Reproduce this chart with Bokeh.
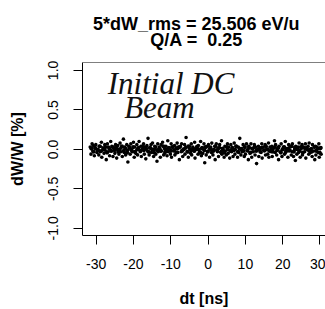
from bokeh.plotting import figure
from bokeh.models import Range1d, FixedTicker, Label, Span, PrintfTickFormatter, Div
from bokeh.layouts import column
from bokeh.embed import file_html
from bokeh.resources import INLINE

title_line1 = "5*dW_rms = 25.506 eV/u"
title_line2 = "Q/A =  0.25"
x_label = "dt [ns]"
y_label = "dW/W [%]"
note_line1 = "Initial DC"
note_line2 = "Beam"
x_ticks = [-30, -20, -10, 0, 10, 20, 30]
x_tick_labels = ["-30", "-20", "-10", "0", "10", "20", "30"]
y_ticks = [-1.0, -0.5, 0.0, 0.5, 1.0]
y_tick_labels = ["-1.0", "-0.5", "0.0", "0.5", "1.0"]

dt = [
    -31.6, -31.4, -31.1, -30.9, -30.8, -30.5, -30.2, -30.1, -29.8, -29.5,
    -29.3, -29.2, -28.9, -28.6, -28.5, -28.2, -27.9, -27.7, -27.6, -27.3,
    -27.0, -26.8, -26.7, -26.4, -26.1, -25.9, -25.8, -25.5, -25.2, -25.0,
    -24.8, -24.5, -24.3, -24.2, -23.9, -23.6, -23.4, -23.3, -23.0, -22.7,
    -22.5, -22.4, -22.1, -21.8, -21.6, -21.5, -21.2, -20.9, -20.7, -20.6,
    -20.3, -20.0, -19.8, -19.7, -19.4, -19.1, -18.9, -18.8, -18.5, -18.2,
    -18.0, -17.9, -17.6, -17.3, -17.1, -17.0, -16.7, -16.4, -16.2, -16.1,
    -15.8, -15.5, -15.3, -15.2, -14.9, -14.6, -14.4, -14.3, -14.0, -13.7,
    -13.5, -13.4, -13.1, -12.8, -12.6, -12.5, -12.2, -11.9, -11.7, -11.6,
    -11.3, -11.0, -10.8, -10.7, -10.4, -10.1, -9.9, -9.8, -9.5, -9.2,
    -9.0, -8.9, -8.6, -8.3, -8.1, -8.0, -7.7, -7.4, -7.2, -7.1,
    -6.8, -6.5, -6.3, -6.2, -5.9, -5.6, -5.4, -5.3, -5.0, -4.7,
    -4.5, -4.4, -4.1, -3.8, -3.6, -3.5, -3.2, -2.9, -2.7, -2.6,
    -2.3, -2.0, -1.8, -1.7, -1.4, -1.1, -0.9, -0.8, -0.5, -0.2,
    0.0, 0.1, 0.4, 0.7, 0.9, 1.0, 1.3, 1.6, 1.8, 1.9,
    2.2, 2.5, 2.7, 2.8, 3.1, 3.4, 3.6, 3.7, 4.0, 4.3,
    4.5, 4.6, 4.9, 5.2, 5.4, 5.5, 5.8, 6.1, 6.3, 6.4,
    6.7, 7.0, 7.2, 7.3, 7.6, 7.9, 8.1, 8.2, 8.5, 8.8,
    9.0, 9.1, 9.4, 9.7, 9.9, 10.0, 10.3, 10.6, 10.8, 10.9,
    11.2, 11.5, 11.7, 11.8, 12.1, 12.4, 12.6, 12.7, 13.0, 13.3,
    13.5, 13.6, 13.9, 14.2, 14.4, 14.5, 14.8, 15.1, 15.3, 15.4,
    15.7, 16.0, 16.2, 16.3, 16.6, 16.9, 17.1, 17.2, 17.5, 17.8,
    18.0, 18.1, 18.4, 18.7, 18.9, 19.0, 19.3, 19.6, 19.8, 19.9,
    20.2, 20.5, 20.7, 20.8, 21.1, 21.4, 21.6, 21.7, 22.0, 22.3,
    22.5, 22.6, 22.9, 23.2, 23.4, 23.5, 23.8, 24.1, 24.3, 24.4,
    24.7, 25.0, 25.2, 25.3, 25.6, 25.9, 26.1, 26.2, 26.5, 26.8,
    27.0, 27.1, 27.4, 27.7, 27.9, 28.0, 28.3, 28.6, 28.8, 28.9,
    29.2, 29.5, 29.7, 29.8, 30.1, 30.3,
]

dW = [
    0.03, -0.06, 0.07, -0.02, 0.05, -0.08, 0.01, 0.06, -0.04, 0.00,
    -0.07, 0.04, -0.03, 0.09, -0.10, 0.02, -0.05, 0.06, -0.01, -0.13,
    0.07, -0.03, 0.03, -0.08, 0.10, -0.02, 0.04, -0.09, 0.02, -0.05,
    0.06, -0.11, 0.00, 0.05, -0.06, 0.08, -0.03, 0.02, -0.09, 0.13,
    -0.04, 0.03, -0.07, 0.06, -0.01, -0.16, 0.04, -0.06, 0.07, 0.00,
    -0.03, 0.09, -0.10, 0.03, -0.05, 0.06, -0.07, 0.01, 0.10, -0.03,
    0.04, -0.09, 0.00, 0.07, -0.06, 0.03, -0.12, 0.05, -0.02, 0.14,
    -0.07, 0.02, 0.06, -0.04, 0.08, -0.09, 0.00, 0.04, -0.06, -0.15,
    0.07, -0.03, 0.03, -0.10, 0.06, -0.02, 0.09, -0.07, 0.01, -0.05,
    0.04, -0.08, 0.11, -0.03, 0.00, -0.06, 0.07, -0.10, 0.03, -0.02,
    0.05, -0.07, 0.02, 0.08, -0.04, 0.03, -0.13, 0.04, -0.03, 0.07,
    -0.09, 0.00, 0.06, -0.06, 0.15, -0.03, 0.04, -0.10, 0.01, -0.05,
    0.07, -0.07, 0.03, -0.02, 0.09, -0.11, 0.00, 0.04, -0.06, 0.05,
    -0.03, 0.10, -0.08, 0.01, -0.05, 0.07, -0.17, 0.03, -0.07, 0.04,
    -0.02, 0.06, -0.10, 0.03, -0.04, 0.08, -0.07, 0.00, 0.04, -0.13,
    0.07, -0.03, 0.01, -0.09, 0.06, -0.04, 0.11, -0.06, 0.00, -0.10,
    0.04, -0.02, -0.07, 0.07, -0.05, 0.03, -0.11, 0.06, -0.03, 0.01,
    -0.09, 0.08, -0.06, 0.00, 0.04, -0.10, 0.03, -0.04, 0.14, -0.07,
    0.01, -0.03, 0.06, -0.09, 0.03, -0.06, 0.07, -0.02, -0.13, 0.04,
    -0.05, 0.07, -0.10, 0.01, -0.03, 0.06, -0.07, 0.03, -0.18, 0.00,
    0.04, -0.09, 0.01, -0.04, 0.07, -0.11, 0.03, -0.02, 0.06, -0.07,
    0.00, -0.06, 0.08, -0.10, 0.03, -0.03, 0.04, -0.09, 0.01, 0.11,
    -0.04, 0.06, -0.07, 0.01, -0.13, 0.04, -0.03, 0.07, -0.09, 0.00,
    0.03, -0.06, 0.10, -0.04, 0.01, -0.10, 0.06, -0.02, 0.04, -0.07,
    -0.03, 0.07, -0.09, 0.00, -0.14, 0.04, -0.06, 0.03, -0.04, 0.08,
    -0.10, 0.01, 0.06, -0.07, 0.03, -0.03, 0.07, -0.11, 0.00, 0.04,
    -0.06, 0.08, -0.04, 0.01, -0.09, 0.06, -0.02, -0.13, 0.04, -0.07,
    0.03, -0.04, 0.07, -0.10, 0.01, -0.06,
]

# dense core of the beam
dt_core = [
    -31.3, -30.7, -30.3, -29.6, -29.0, -28.7, -28.1, -27.5, -27.1, -26.5,
    -26.0, -25.6, -25.1, -24.6, -24.1, -23.7, -23.1, -22.6, -22.2, -21.7,
    -21.1, -20.5, -20.1, -19.6, -19.0, -18.6, -18.1, -17.5, -17.2, -16.6,
    -16.0, -15.6, -15.0, -14.5, -14.1, -13.6, -13.0, -12.7, -12.0, -11.5,
    -11.1, -10.5, -10.0, -9.6, -9.1, -8.5, -8.2, -7.6, -7.0, -6.6,
    -6.0, -5.5, -5.1, -4.6, -4.0, -3.7, -3.0, -2.5, -2.1, -1.6,
    -1.0, -0.6, -0.1, 0.5, 0.8, 1.4, 2.0, 2.4, 3.0, 3.5,
    3.9, 4.4, 5.0, 5.3, 6.0, 6.5, 6.9, 7.5, 8.0, 8.4,
    8.9, 9.5, 9.8, 10.5, 11.0, 11.4, 11.9, 12.5, 12.9, 13.4,
    14.0, 14.3, 15.0, 15.5, 15.9, 16.5, 17.0, 17.4, 17.9, 18.5,
    18.8, 19.5, 20.0, 20.4, 20.9, 21.5, 21.9, 22.4, 23.0, 23.3,
    24.0, 24.5, 24.9, 25.4, 26.0, 26.4, 27.0, 27.5, 27.8, 28.5,
    29.0, 29.4, 29.9, 30.2,
]
dW_core = [
    0.01, -0.03, 0.02, -0.01, 0.04, -0.02, 0.00, 0.03, -0.04, 0.01,
    -0.02, 0.03, -0.01, 0.02, -0.03, 0.00, 0.04, -0.02, 0.01, -0.04,
    0.02, -0.01, 0.03, -0.03, 0.00, 0.02, -0.02, 0.04, -0.01, 0.01,
    -0.03, 0.02, 0.00, -0.04, 0.03, -0.01, 0.01, -0.02, 0.04, -0.03,
    0.00, 0.02, -0.02, 0.03, -0.01, -0.04, 0.01, 0.03, -0.02, 0.00,
    0.02, -0.03, 0.04, -0.01, 0.01, -0.02, 0.03, 0.00, -0.04, 0.02,
    -0.01, 0.03, -0.03, 0.01, 0.00, -0.02, 0.04, -0.01, 0.02, -0.03,
    0.01, -0.04, 0.03, 0.00, -0.02, 0.02, -0.01, 0.04, -0.03, 0.01,
    0.00, -0.02, 0.03, -0.01, 0.02, -0.04, 0.01, 0.03, -0.02, 0.00,
    -0.03, 0.02, -0.01, 0.04, 0.00, -0.02, 0.01, -0.03, 0.03, -0.01,
    0.02, -0.04, 0.00, 0.03, -0.02, 0.01, -0.01, 0.04, -0.03, 0.02,
    0.00, -0.02, 0.03, -0.04, 0.01, 0.02, -0.01, 0.00, -0.03, 0.03,
    -0.02, 0.01, -0.04, 0.02,
]

FONT = "Liberation Sans"
TITLE_H = 50

p = figure(width=325, height=309 - TITLE_H, output_backend="svg", toolbar_location=None,
           x_range=Range1d(-33.67, 31.48), y_range=Range1d(-1.09, 1.10),
           min_border_left=82, min_border_right=0, min_border_top=62 - TITLE_H,
           min_border_bottom=74)
p.title.visible = False
p.outline_line_color = None
p.grid.visible = False
p.background_fill_color = "white"
p.border_fill_color = "white"

p.scatter(dt, dW, size=3.6, marker="circle", color="black", line_width=0)
p.scatter(dt_core, dW_core, size=4.2, marker="circle", color="black", line_width=0)

# top edge of the box
p.add_layout(Span(location=1.10, dimension="width", line_color="black", line_width=1))

xa = p.xaxis[0]
xa.ticker = FixedTicker(ticks=x_ticks, minor_ticks=[])
xa.major_label_overrides = dict(zip(x_ticks, x_tick_labels))
xa.axis_label = x_label
ya = p.yaxis[0]
ya.ticker = FixedTicker(ticks=y_ticks, minor_ticks=[])
ya.formatter = PrintfTickFormatter(format="%.1f")
ya.major_label_overrides = dict(zip(y_ticks, y_tick_labels))
ya.axis_label = y_label
ya.major_label_orientation = "vertical"

for ax in (xa, ya):
    ax.axis_line_color = "black"
    ax.axis_line_width = 1
    ax.major_tick_line_color = "black"
    ax.major_tick_out = 9
    ax.major_tick_in = 0
    ax.minor_tick_out = 0
    ax.minor_tick_in = 0
    ax.major_label_text_font = FONT
    ax.major_label_text_font_size = "14px"
    ax.major_label_text_color = "black"
    ax.axis_label_text_font = FONT
    ax.axis_label_text_font_size = "16px"
    ax.axis_label_text_font_style = "bold"
    ax.axis_label_text_color = "black"

xa.major_label_standoff = 14
xa.axis_label_standoff = 18
ya.major_label_standoff = 15
ya.axis_label_standoff = 20

# handwritten note
p.add_layout(Label(x=-26.9, y=0.836, text=note_line1, text_font="Liberation Serif",
                   text_font_size="31px", text_font_style="italic",
                   text_align="left", text_baseline="alphabetic", text_color="#111111"))
p.add_layout(Label(x=-22.5, y=0.532, text=note_line2, text_font="Liberation Serif",
                   text_font_size="31px", text_font_style="italic",
                   text_align="left", text_baseline="alphabetic", text_color="#111111"))

# two-line centred bold title
title_html = (
    '<div style="font-family:\'Liberation Sans\';font-weight:bold;font-size:18px;'
    'line-height:16px;text-align:center;color:black;padding:16px 0 0 93px;'
    'margin:0;white-space:pre;">'
    + title_line1 + "<br>" + title_line2 + "</div>"
)
title_div = Div(text=title_html, width=325, height=TITLE_H, margin=0)

layout = column(title_div, p, spacing=0)
open("out.html", "w").write(file_html(layout, INLINE))
